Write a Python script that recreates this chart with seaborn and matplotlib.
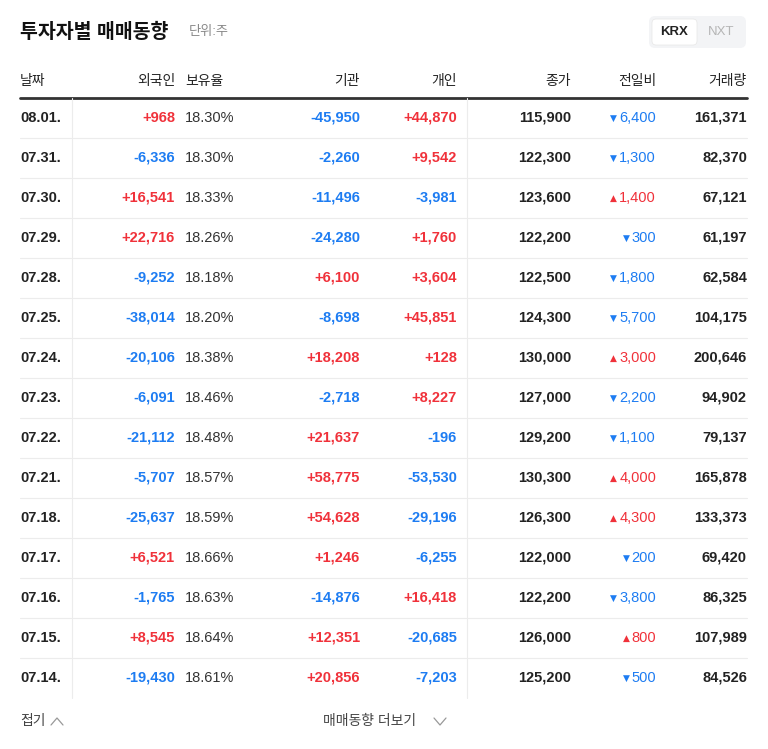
import matplotlib.pyplot as plt
import matplotlib.patches as patches
import pandas as pd
import seaborn as sns

sns.set_theme(style="white")
plt.rcParams["font.family"] = ["Liberation Sans", "Noto Sans CJK KR", "Noto Sans CJK JP",
                               "Noto Sans CJK SC", "DejaVu Sans"]

dates = ["08.01.", "07.31.", "07.30.", "07.29.", "07.28.", "07.25.", "07.24.", "07.23.",
         "07.22.", "07.21.", "07.18.", "07.17.", "07.16.", "07.15.", "07.14."]
foreign = [968, -6336, 16541, 22716, -9252, -38014, -20106, -6091,
           -21112, -5707, -25637, 6521, -1765, 8545, -19430]
hold_ratio = [18.30, 18.30, 18.33, 18.26, 18.18, 18.20, 18.38, 18.46,
              18.48, 18.57, 18.59, 18.66, 18.63, 18.64, 18.61]
institution = [-45950, -2260, -11496, -24280, 6100, -8698, 18208, -2718,
               21637, 58775, 54628, 1246, -14876, 12351, 20856]
individual = [44870, 9542, -3981, 1760, 3604, 45851, 128, 8227,
              -196, -53530, -29196, -6255, 16418, -20685, -7203]
close = [115900, 122300, 123600, 122200, 122500, 124300, 130000, 127000,
         129200, 130300, 126300, 122000, 122200, 126000, 125200]
change = [-6400, -1300, 1400, -300, -1800, -5700, 3000, -2200,
          -1100, 4000, 4300, -200, -3800, 800, -500]
volume = [161371, 82370, 67121, 61197, 62584, 104175, 200646, 94902,
          79137, 165878, 133373, 69420, 86325, 107989, 84526]
headers = ["날짜", "외국인", "보유율", "기관", "개인", "종가", "전일비", "거래량"]

df = pd.DataFrame({"date": dates, "foreign": foreign, "hold": hold_ratio,
                   "inst": institution, "indiv": individual, "close": close,
                   "change": change, "volume": volume})

RED = "#f0313a"
BLUE = "#1d7cf2"
DARK = "#222222"
FS = 10.5


def sign_color(v):
    return RED if v > 0 else BLUE


def signed(v):
    return f"{v:+,}"


fig = plt.figure(figsize=(7.68, 7.49), dpi=100)
ax = fig.add_axes([0, 0, 1, 1])
ax.set_xlim(0, 768)
ax.set_ylim(749, 0)
ax.axis("off")

# title and toggle
ax.text(20, 32, "투자자별 매매동향", fontsize=14, fontweight="bold", color="#111111", va="center")
ax.text(189, 32, "단위:주", fontsize=9.5, color="#888888", va="center")
ax.add_patch(patches.FancyBboxPatch((649, 16), 97, 32, boxstyle="round,pad=0,rounding_size=6",
                                    fc="#f3f4f6", ec="none"))
ax.add_patch(patches.FancyBboxPatch((652, 19), 45, 26, boxstyle="round,pad=0,rounding_size=4",
                                    fc="white", ec="#e6e6e6", lw=0.5))
ax.text(674, 32, "KRX", fontsize=9.5, fontweight="bold", color=DARK, ha="center", va="center")
ax.text(721, 32, "NXT", fontsize=9.5, color="#b5b5b5", ha="center", va="center")

# header
hx = [(20, "left"), (175, "right"), (185, "left"), (360, "right"),
      (457, "right"), (571, "right"), (656, "right"), (747, "right")]
for (x, ha), h in zip(hx, headers):
    ax.text(x, 81, h, fontsize=FS - 0.5, color=DARK, ha=ha, va="center")
ax.plot([20, 747], [98, 98], color="#333333", lw=2)

row_h = 40
top = 98
fig.canvas.draw()
renderer = fig.canvas.get_renderer()
for i, r in df.iterrows():
    y = top + row_h * i + 20
    if i < len(df) - 1:
        ax.plot([20, 747], [top + row_h * (i + 1)] * 2, color="#ececec", lw=0.8)
    ax.text(20, y, r["date"], fontsize=FS, fontweight="bold", color=DARK, va="center")
    ax.text(175, y, signed(r["foreign"]), fontsize=FS, fontweight="bold",
            color=sign_color(r["foreign"]), ha="right", va="center")
    ax.text(185, y, f"{r['hold']:.2f}%", fontsize=FS, color="#333333", va="center")
    ax.text(360, y, signed(r["inst"]), fontsize=FS, fontweight="bold",
            color=sign_color(r["inst"]), ha="right", va="center")
    ax.text(457, y, signed(r["indiv"]), fontsize=FS, fontweight="bold",
            color=sign_color(r["indiv"]), ha="right", va="center")
    ax.text(571, y, f"{r['close']:,}", fontsize=FS, fontweight="bold", color=DARK,
            ha="right", va="center")
    c = sign_color(r["change"])
    t = ax.text(656, y, f"{abs(r['change']):,}", fontsize=FS, color=c, ha="right", va="center")
    ax.text(747, y, f"{r['volume']:,}", fontsize=FS, fontweight="bold", color=DARK,
            ha="right", va="center")
    bb = t.get_window_extent(renderer)
    left = ax.transData.inverted().transform((bb.x0, bb.y0))[0]
    ax.text(left - 2, y, "▲" if r["change"] > 0 else "▼", fontsize=6.5, color=c,
            ha="right", va="center", family="DejaVu Sans")

ax.plot([72, 72], [98, 698], color="#ececec", lw=0.8)
ax.plot([467, 467], [98, 698], color="#ececec", lw=0.8)

# footer
ax.text(20, 721, "접기", fontsize=FS - 0.5, color="#444444", va="center")
ax.plot([51, 57, 63], [725, 718, 725], color="#999999", lw=0.9)
ax.text(323, 721, "매매동향 더보기", fontsize=FS - 0.5, color="#444444", va="center")
ax.plot([434, 440, 446], [718, 725, 718], color="#999999", lw=0.9)

fig.savefig("out.png", dpi=100)
